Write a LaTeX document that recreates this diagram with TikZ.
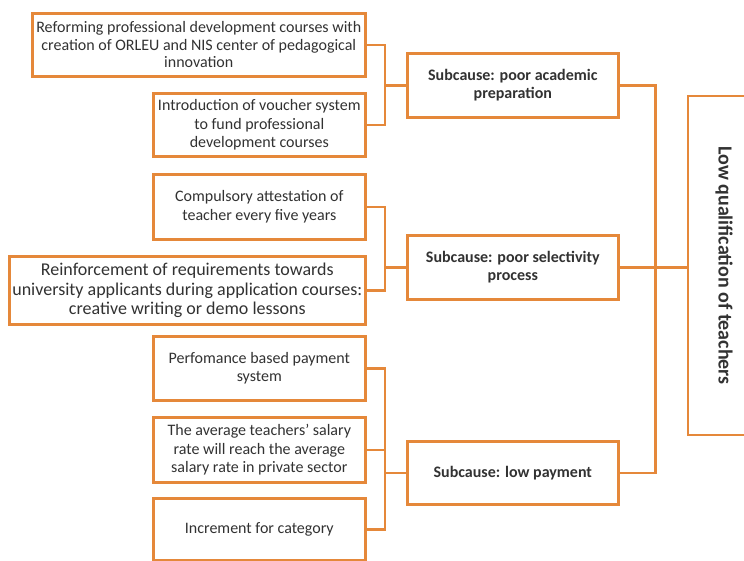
\documentclass[tikz,border=0pt]{standalone}
\usepackage{fontspec}
\setmainfont{Carlito}
\usetikzlibrary{calc}
\definecolor{causeorange}{RGB}{229,136,58}
\definecolor{causetext}{RGB}{50,50,50}
\tikzset{
	measure/.style={draw=causeorange, line width=2.6pt, fill=white, align=center, text=causetext,
		inner sep=1pt, font=\fontsize{16}{18.5}\selectfont},
	subcause/.style={measure, font=\bfseries\fontsize{16}{18.5}\selectfont},
	link/.style={draw=causeorange, line width=2.6pt},
}

\begin{document}
\begin{tikzpicture}[x=1pt, y=-1pt]
		\useasboundingbox (0,0) rectangle (744,560);
		\clip (0,0) rectangle (744,560);
		\fill[white] (0,0) rectangle (744,560);
		% measures, left column
		\node[measure, anchor=north west, minimum width=333pt, minimum height=63pt,
			font=\fontsize{16}{17.5}\selectfont] (a1) at (31,12)
			{Reforming professional development courses with\\creation of ORLEU and NIS center of pedagogical\\innovation};
		\node[measure, anchor=north west, minimum width=212pt, minimum height=63pt] (a2) at (152,92)
			{Introduction of voucher system\\to fund professional\\development courses};
		\node[measure, anchor=north west, minimum width=212pt, minimum height=65pt] (b1) at (152,173)
			{Compulsory attestation of\\teacher every five years};
		\node[measure, anchor=north west, minimum width=356pt, minimum height=68pt,
			font=\fontsize{18}{19.5}\selectfont] (b2) at (8,255)
			{Reinforcement of requirements towards\\university applicants during application courses:\\creative writing or demo lessons};
		\node[measure, anchor=north west, minimum width=212pt, minimum height=64pt] (c1) at (152,335)
			{Perfomance based payment\\system};
		\node[measure, anchor=north west, minimum width=212pt, minimum height=65pt] (c2) at (152,416)
			{The average teachers' salary\\rate will reach the average\\salary rate in private sector};
		\node[measure, anchor=north west, minimum width=212pt, minimum height=62pt] (c3) at (152,497)
			{Increment for category};
		% subcauses
		\node[subcause, anchor=north west, minimum width=211pt, minimum height=64pt] (s1) at (406,52)
			{Subcause: poor academic\\preparation};
		\node[subcause, anchor=north west, minimum width=211pt, minimum height=64pt] (s2) at (406,234)
			{Subcause: poor selectivity\\process};
		\node[subcause, anchor=north west, minimum width=211pt, minimum height=63pt] (s3) at (406,440)
			{Subcause: low payment};
		% main cause, read top to bottom (its left side is m.south)
		\node[subcause, rotate=-90, minimum width=339pt, minimum height=72pt,
			font=\bfseries\fontsize{20}{22}\selectfont] (m) at (724,265.5)
			{Low qualification of teachers};
		% brackets
		\coordinate (ja) at ($(s1.west)-(21,0)$);
		\coordinate (jb) at ($(s2.west)-(21,0)$);
		\coordinate (jc) at ($(s3.west)-(21,0)$);
		\coordinate (jm) at ($(s1.east)+(36,0)$);
		\draw[link] (a1.east) -| (ja) |- (a2.east);
		\draw[link] (ja) -- (s1.west);
		\draw[link] (b1.east) -| (jb) |- (b2.east);
		\draw[link] (jb) -- (s2.west);
		\draw[link] (c1.east) -| (jc) |- (c3.east);
		\draw[link] (c2.east) -- (c2.east -| jc);
		\draw[link] (jc) -- (s3.west);
		\draw[link] (s1.east) -- (jm) |- (s3.east);
		\draw[link] (s2.east) -- (s2.east -| m.south);
\end{tikzpicture}
\end{document}
